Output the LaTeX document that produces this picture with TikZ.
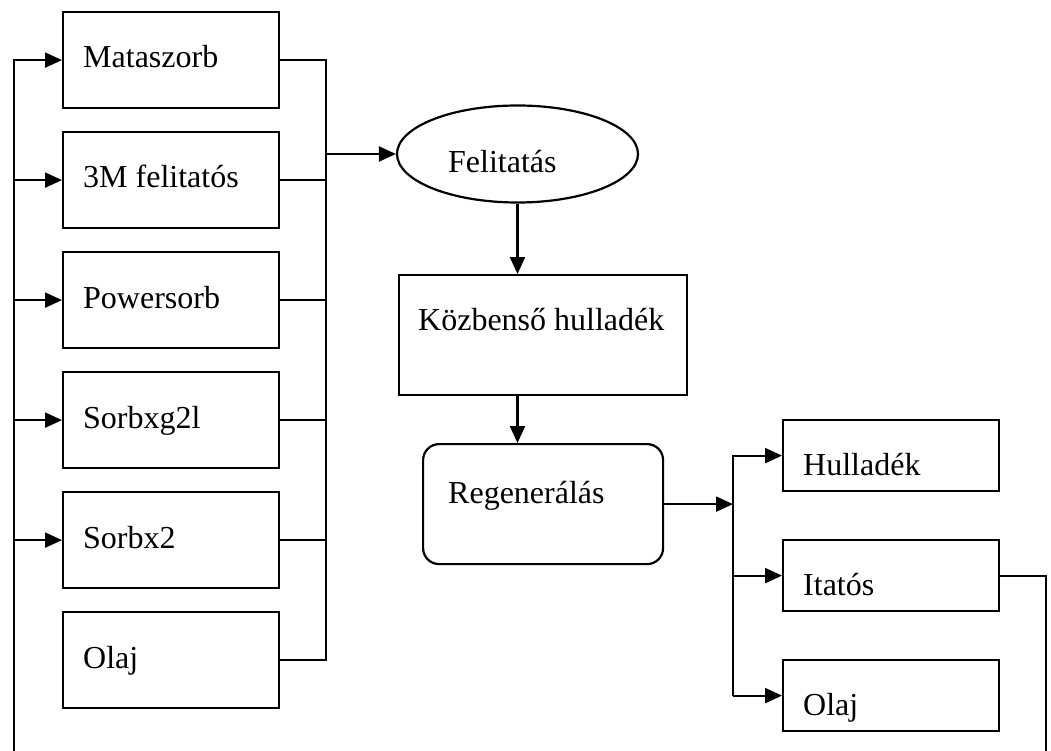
\documentclass[tikz,border=0pt]{standalone}
\usepackage{fontspec}
\setmainfont{Liberation Serif}
\usetikzlibrary{arrows.meta,shapes.geometric}
\tikzset{
  box/.style={draw, line width=2.2pt, inner sep=0pt, anchor=north west},
  lbox/.style={box, minimum width=216pt, minimum height=96pt},
  rbox/.style={box, minimum width=216pt, minimum height=71pt},
  txt/.style={anchor=base west, inner sep=0pt, font=\fontsize{32pt}{36pt}\selectfont},
  ln/.style={line width=2.2pt},
  arr/.style={line width=2.2pt, -{Triangle[length=17pt,width=15pt]}},
}
\begin{document}
\begin{tikzpicture}[x=1pt,y=-1pt]
\useasboundingbox (0,0) rectangle (1051,751);
% left boxes
\node[lbox] (m1) at (62,11) {};
\node[lbox] (m2) at (62,131) {};
\node[lbox] (m3) at (62,251) {};
\node[lbox] (m4) at (62,371) {};
\node[lbox] (m5) at (62,491) {};
\node[lbox] (m6) at (62,611) {};
\node[txt] (t1) at (83,68) {Mataszorb};
\node[txt] (t2) at (83,188) {3M felitatós};
\node[txt] (t3) at (83,308) {Powersorb};
\node[txt] (t4) at (83,428) {Sorbxg2l};
\node[txt] (t5) at (83,548) {Sorbx2};
\node[txt] (t6) at (83,668) {Olaj};
% left feedback line
\coordinate (lbot) at (14,751);
\draw[arr] (lbot) -- (lbot |- m1.west) -- (m1.west);
\draw[arr] (lbot |- m2.west) -- (m2.west);
\draw[arr] (lbot |- m3.west) -- (m3.west);
\draw[arr] (lbot |- m4.west) -- (m4.west);
\draw[arr] (lbot |- m5.west) -- (m5.west);
% right bus
\coordinate (rb) at (326,0);
\draw[ln] (m1.east) -- (rb |- m1.east) -- (rb |- m6.east) -- (m6.east);
\draw[ln] (m2.east) -- (rb |- m2.east);
\draw[ln] (m3.east) -- (rb |- m3.east);
\draw[ln] (m4.east) -- (rb |- m4.east);
\draw[ln] (m5.east) -- (rb |- m5.east);
% ellipse
\node[draw, ellipse, line width=2.2pt, minimum width=241pt, minimum height=97pt, inner sep=0pt] (fel) at (517.5,154) {};
\node[txt] (tf) at (448,173) {Felitatás};
\draw[arr] (rb |- fel.west) -- (fel.west);
% intermediate waste
\node[box, minimum width=288pt, minimum height=120pt] (koz) at (398,274) {};
\node[txt] (tk) at (418,330) {Közbenső hulladék};
\draw[arr] (fel.south) -- (fel.south |- koz.north);
% regeneration
\node[box, rounded corners=16pt, minimum width=240pt, minimum height=120pt] (reg) at (422,443) {};
\node[txt] (tr) at (448,503) {Regenerálás};
\draw[arr] (koz.south -| fel.south) -- (reg.north -| fel.south);
% right bus
\coordinate (rb2) at (733,0);
\node[rbox] (h) at (782,419) {};
\node[rbox] (i) at (782,539) {};
\node[rbox] (o) at (782,659) {};
\node[txt] (th) at (803,475) {Hulladék};
\node[txt] (ti) at (803,595) {Itatós};
\node[txt] (to) at (803,715) {Olaj};
\coordinate (rdown) at (1046,751);
\draw[arr] (reg.east) -- (rb2 |- reg.east);
\draw[arr] (rb2 |- o.west) -- (rb2 |- h.west) -- (h.west);
\draw[arr] (rb2 |- i.west) -- (i.west);
\draw[arr] (rb2 |- o.west) -- (o.west);
\draw[ln] (i.east) -- (rdown |- i.east) -- (rdown);
\end{tikzpicture}
\end{document}
